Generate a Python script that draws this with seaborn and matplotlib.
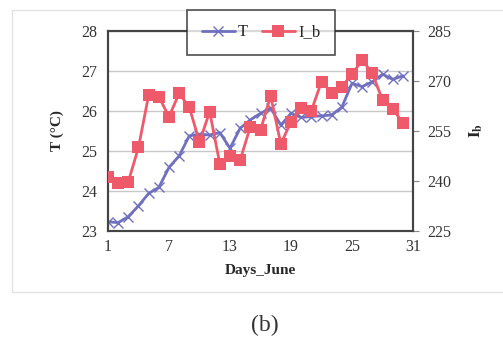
import numpy as np
import pandas as pd
import matplotlib.pyplot as plt
import seaborn as sns
from matplotlib.lines import Line2D

# 数据
days = list(range(1, 31))
T = [23.23, 23.21, 23.36, 23.63, 23.94, 24.09, 24.59, 24.88, 25.38, 25.42,
     25.40, 25.46, 25.07, 25.57, 25.78, 25.94, 26.07, 25.65, 25.94, 25.84,
     25.86, 25.88, 25.90, 26.10, 26.69, 26.61, 26.73, 26.92, 26.79, 26.88]
I_b = [241.1, 239.5, 239.8, 250.1, 265.8, 265.3, 259.3, 266.3, 262.1, 251.7,
       260.8, 245.1, 247.6, 246.3, 256.3, 255.3, 265.5, 251.1, 257.8, 261.9,
       261.1, 269.8, 266.5, 268.3, 272.0, 276.3, 272.3, 264.3, 261.6, 257.5]
x_ticks = [1, 7, 13, 19, 25, 31]
t_ticks = [23, 24, 25, 26, 27, 28]
ib_ticks = [225, 240, 255, 270, 285]

df = pd.DataFrame({'day': days, 'T': T, 'I_b': I_b})

sns.set_style('white')
plt.rcParams['font.family'] = ['Liberation Serif', 'DejaVu Serif']
plt.rcParams['mathtext.fontset'] = 'stix'

c_t = '#7070C0'
c_ib = '#EE5A6A'

fig = plt.figure(figsize=(5.03, 3.45), dpi=100)
ax = fig.add_axes([0.2147, 0.3304, 0.6064, 0.5797])
ax2 = ax.twinx()

sns.lineplot(data=df, x='day', y='T', ax=ax, color=c_t, lw=2,
             marker='x', markersize=7, markeredgewidth=1.0,
             markeredgecolor=c_t, zorder=3)
sns.lineplot(data=df, x='day', y='I_b', ax=ax2, color=c_ib, lw=2,
             marker='s', markersize=8, markeredgewidth=0,
             zorder=3)

ax.set_xlim(1, 31)
ax.set_ylim(23, 28)
ax2.set_ylim(225, 285)
ax.set_xticks(x_ticks)
ax.set_yticks(t_ticks)
ax2.set_yticks(ib_ticks)

ax.yaxis.grid(True, color='#c8c8c8', lw=1)
ax.set_axisbelow(True)

ax.tick_params(axis='x', direction='in', length=3, color='#888888',
               labelsize=11.5, labelcolor='#333333', pad=6)
ax.tick_params(axis='y', length=0, labelsize=11.5, labelcolor='#333333', pad=8)
ax2.tick_params(axis='y', direction='out', length=4, color='#888888',
                labelsize=11.5, labelcolor='#333333', pad=6)

for a in (ax, ax2):
    for s in a.spines.values():
        s.set_visible(True)
        s.set_color('#444444')
        s.set_linewidth(1.5)

ax.set_xlabel('Days_June', fontsize=11, fontweight='bold', labelpad=6)
ax.set_ylabel('T (°C)', fontsize=11, fontweight='bold', labelpad=12)
ax2.set_ylabel(r'$\mathbf{I_b}$', fontsize=12, labelpad=12)

# 图例
handles = [Line2D([], [], color=c_t, lw=2, marker='x', markersize=7,
                  markeredgewidth=1.0),
           Line2D([], [], color=c_ib, lw=2, marker='s', markersize=8,
                  markeredgewidth=0)]
leg = fig.legend(handles, ['T', 'I_b'], loc='center', ncol=2,
                 bbox_to_anchor=(0.519, 0.906), frameon=True, fancybox=False,
                 fontsize=12, handlelength=2.0, handletextpad=0.2,
                 columnspacing=0.8, borderpad=0.85)
leg.get_frame().set_edgecolor('#222222')
leg.get_frame().set_linewidth(1.2)
leg.set_zorder(10)

# 外框
fig.add_artist(Line2D([0.024, 1.0], [0.971, 0.971], color='#e2e2e2', lw=1))
fig.add_artist(Line2D([0.024, 0.024], [0.154, 0.971], color='#e2e2e2', lw=1))
fig.add_artist(Line2D([0.024, 1.0], [0.154, 0.154], color='#e2e2e2', lw=1))

fig.text(0.527, 0.058, '(b)', ha='center', va='center', fontsize=17,
         color='#333333')

fig.savefig('out.png', dpi=100)
